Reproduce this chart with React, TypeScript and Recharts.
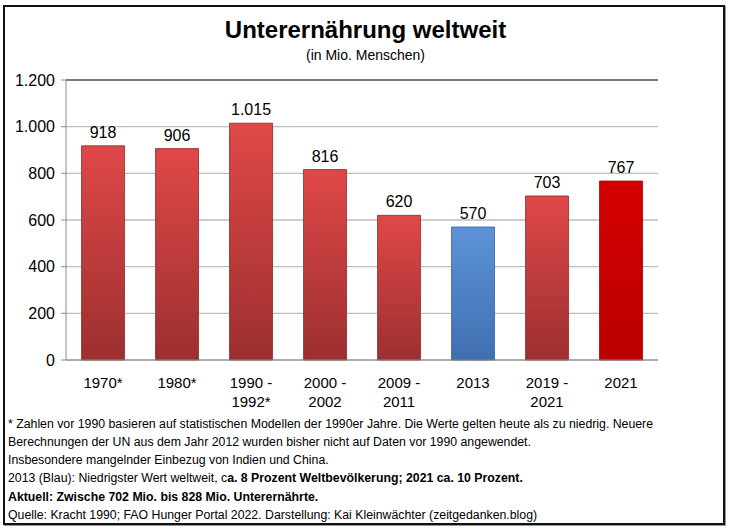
import React from "react";
import { BarChart, Bar, XAxis, YAxis, CartesianGrid, Cell, LabelList, ReferenceLine } from "recharts";

// Zeiträume und Werte (Mio. Menschen)
const categories = ["1970*", "1980*", "1990 -\n1992*", "2000 -\n2002", "2009 -\n2011", "2013", "2019 -\n2021", "2021"];
const values = [918, 906, 1015, 816, 620, 570, 703, 767];
const yTicks = [0, 200, 400, 600, 800, 1000, 1200];

// Füllung je Balken
const barFills = ["url(#gRed)", "url(#gRed)", "url(#gRed)", "url(#gRed)", "url(#gRed)", "url(#gBlue)", "url(#gRed)", "url(#gBright)"];
const barStrokes = ["#8a2a2a", "#8a2a2a", "#8a2a2a", "#8a2a2a", "#8a2a2a", "#36609c", "#8a2a2a", "#a00000"];

const data = categories.map((name, i) => ({ name, value: values[i] }));

const font = "'Liberation Sans', Arial, sans-serif";

const fmt = (v: number) => String(v).replace(/\B(?=(\d{3})+(?!\d))/g, ".");

function XTick(props: any) {
  const { x, y, payload } = props;
  const lines = String(payload.value).split("\n");
  return (
    <g transform={`translate(${x},${y})`}>
      {lines.map((l, i) => (
        <text key={i} x={0} y={20 + i * 19} textAnchor="middle" fontSize={15} fill="#000" fontFamily={font}>
          {l}
        </text>
      ))}
    </g>
  );
}

export default function App() {
  return (
    <div style={{ position: "absolute", left: 0, top: 0, width: 731, height: 530, background: "#fff", fontFamily: font }}>
      <svg width={0} height={0} style={{ position: "absolute" }}>
        <defs>
          <linearGradient id="gRed" x1="0" y1="0" x2="0" y2="1">
            <stop offset="0%" stopColor="#e04848" />
            <stop offset="100%" stopColor="#9c2f2f" />
          </linearGradient>
          <linearGradient id="gBlue" x1="0" y1="0" x2="0" y2="1">
            <stop offset="0%" stopColor="#5d93d8" />
            <stop offset="100%" stopColor="#3f6fb0" />
          </linearGradient>
          <linearGradient id="gBright" x1="0" y1="0" x2="0" y2="1">
            <stop offset="0%" stopColor="#d40000" />
            <stop offset="100%" stopColor="#bb0000" />
          </linearGradient>
        </defs>
      </svg>
      <div
        style={{
          position: "absolute",
          left: 3,
          top: 5,
          width: 718,
          height: 516,
          border: "2px solid #111",
          boxShadow: "1px 1px 0 #999",
        }}
      />
      <div style={{ position: "absolute", left: 0, width: 731, top: 16, textAlign: "center", fontSize: 24, fontWeight: "bold" }}>
        Unterernährung weltweit
      </div>
      <div style={{ position: "absolute", left: 0, width: 731, top: 47, textAlign: "center", fontSize: 14 }}>
        (in Mio. Menschen)
      </div>
      <div style={{ position: "absolute", left: 0, top: 0 }}>
        <BarChart width={731} height={420} data={data} margin={{ top: 80, right: 73, bottom: 0, left: 0 }} barCategoryGap="21%">
          <CartesianGrid horizontal vertical={false} stroke="#bdbdbd" strokeWidth={1.3} />
          <XAxis dataKey="name" interval={0} tickLine={false} axisLine={{ stroke: "#8c8c8c" }} tick={<XTick />} height={60} />
          <YAxis
            domain={[0, 1200]}
            ticks={yTicks}
            tickFormatter={fmt}
            width={66}
            tickSize={5}
            tickMargin={6}
            axisLine={{ stroke: "#8c8c8c" }}
            tickLine={{ stroke: "#8c8c8c" }}
            tick={{ fontSize: 16, fill: "#000", fontFamily: font }}
          />
          <YAxis yAxisId="r" orientation="right" width={0} tick={false} tickLine={false} axisLine={{ stroke: "#333", strokeWidth: 1.5 }} />
          <ReferenceLine y={1200} stroke="#7a7a7a" strokeWidth={2} />
          <Bar dataKey="value" isAnimationActive={false}>
            {data.map((d, i) => (
              <Cell key={d.name} fill={barFills[i]} stroke={barStrokes[i]} strokeWidth={0.8} />
            ))}
            <LabelList dataKey="value" position="top" offset={8} formatter={(v: any) => fmt(Number(v))} style={{ fontSize: 16, fill: "#000", fontFamily: font }} />
          </Bar>
        </BarChart>
      </div>
      <div style={{ position: "absolute", left: 8, top: 415, fontSize: 12.3, lineHeight: "18px", color: "#000", whiteSpace: "nowrap" }}>
        <div>* Zahlen vor 1990 basieren auf statistischen Modellen der 1990er Jahre. Die Werte gelten heute als zu niedrig. Neuere</div>
        <div>Berechnungen der UN aus dem Jahr 2012 wurden bisher nicht auf Daten vor 1990 angewendet.</div>
        <div>Insbesondere mangelnder Einbezug von Indien und China.</div>
        <div>
          2013 (Blau): Niedrigster Wert weltweit, c<b>a. 8 Prozent Weltbevölkerung; 2021 ca. 10 Prozent.</b>
        </div>
        <div style={{ fontWeight: "bold", marginTop: 1 }}>Aktuell: Zwische 702 Mio. bis 828 Mio. Unterernährte.</div>
        <div>Quelle: Kracht 1990; FAO Hunger Portal 2022. Darstellung: Kai Kleinwächter (zeitgedanken.blog)</div>
      </div>
    </div>
  );
}
